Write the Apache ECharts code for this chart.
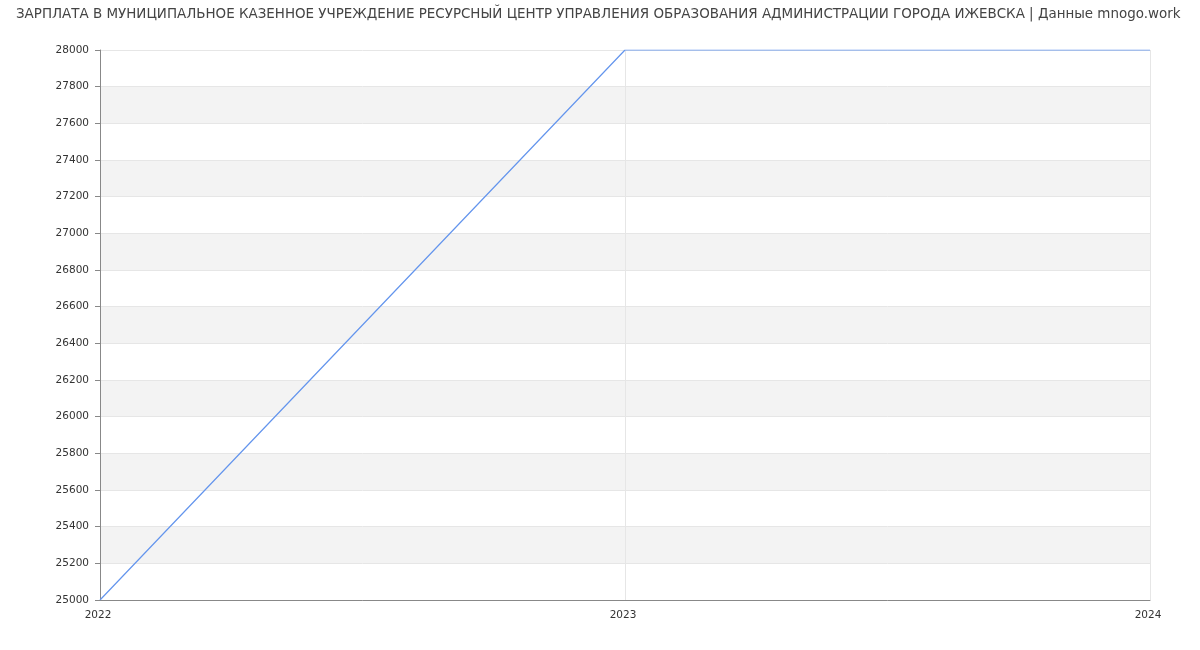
<!DOCTYPE html>
<html><head><meta charset="utf-8">
<script src="https://cdn.jsdelivr.net/npm/echarts@6/dist/echarts.min.js"></script>
<style>html,body{margin:0;padding:0;background:#fff}#c{width:1200px;height:650px}</style>
</head><body><div id="c"></div>
<script>
const titleText = 'ЗАРПЛАТА В МУНИЦИПАЛЬНОЕ КАЗЕННОЕ УЧРЕЖДЕНИЕ РЕСУРСНЫЙ ЦЕНТР УПРАВЛЕНИЯ ОБРАЗОВАНИЯ АДМИНИСТРАЦИИ ГОРОДА ИЖЕВСКА | Данные mnogo.work';
const years = ['2022', '2023', '2024'];
const salary = [25000, 28000, 28000];

const chart = echarts.init(document.getElementById('c'));
chart.setOption({
  animation: false,
  title: {
    text: titleText, left: 11, top: 3,
    textStyle: {fontFamily: 'DejaVu Sans', fontSize: 13.45, fontWeight: 'normal', color: '#444'}
  },
  grid: {left: 100, right: 50, top: 50, bottom: 50},
  xAxis: {
    type: 'category', data: years, boundaryGap: false,
    axisLine: {lineStyle: {color: '#888'}},
    axisTick: {show: false},
    axisLabel: {fontFamily: 'DejaVu Sans', fontSize: 10.5, color: '#333', margin: 10,
      padding: [0, 4, 0, 0],
      showMinLabel: true, showMaxLabel: true},
    splitLine: {show: true, lineStyle: {color: '#e6e6e6'}}
  },
  yAxis: {
    type: 'value', min: 25000, max: 28000, interval: 200,
    axisLine: {show: true, lineStyle: {color: '#888'}},
    axisTick: {show: true, length: 5, lineStyle: {color: '#888'}},
    axisLabel: {fontFamily: 'DejaVu Sans', fontSize: 10.5, color: '#333', margin: 11,
      formatter: v => String(v)},
    splitLine: {show: true, lineStyle: {color: '#e6e6e6'}},
    splitArea: {show: true, areaStyle: {color: ['#ffffff', '#f3f3f3']}}
  },
  series: [{
    type: 'line', data: salary, symbol: 'none',
    lineStyle: {color: '#6495ED', width: 1.2},
    itemStyle: {color: '#6495ED'}
  }]
});
</script></body></html>
